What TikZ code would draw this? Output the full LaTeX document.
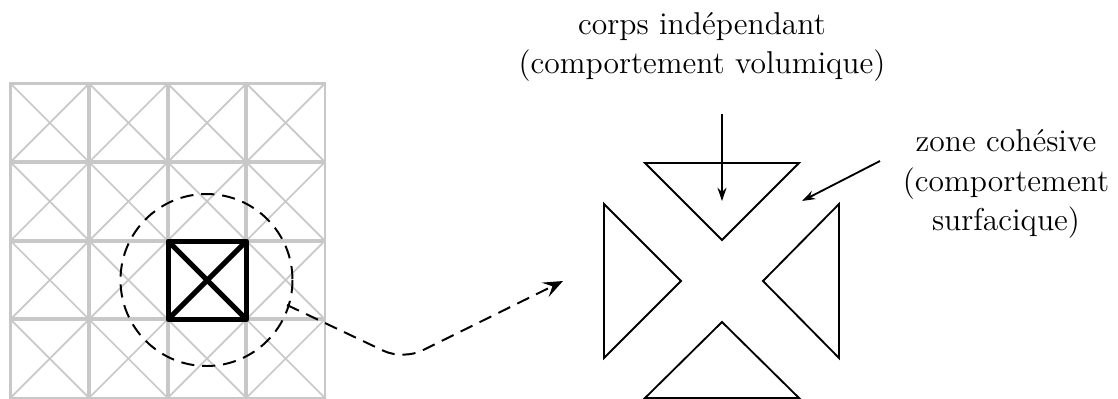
\documentclass[tikz,border=0pt]{standalone}
\usepackage{xcolor}
\usetikzlibrary{arrows.meta, positioning}
\definecolor{MESHgray}{RGB}{200,200,200}
\tikzset{
  meshline/.style={MESHgray, line width=1.4pt},
  meshedge/.style={MESHgray, line width=0.9pt},
  meshdiag/.style={MESHgray, line width=0.65pt},
  boldline/.style={black, line width=1.9pt, line join=round},
  tribody/.style={black, line width=0.7pt, line join=miter},
  callout/.style={black, line width=0.7pt, -{Stealth[length=5pt, width=3.4pt]}},
  zoomline/.style={black, line width=0.75pt, dash pattern=on 5pt off 3pt},
  caption/.style={align=center, inner sep=0pt, font=\large}
}
\begin{document}
\begin{tikzpicture}[x=0.38pt, y=-0.38pt]
        \useasboundingbox (0,0) rectangle (1118,398);
        % maillage
        \foreach \i in {0,...,3}{
          \foreach \j in {0,...,3}{
            \pgfmathsetmacro\xa{10.5+\i*78.6}
            \pgfmathsetmacro\ya{83.5+\j*78.6}
            \draw[meshdiag] (\xa,\ya) -- ++(78.6,78.6);
            \draw[meshdiag] (\xa+78.6,\ya) -- ++(-78.6,78.6);
          }
        }
        \foreach \i in {1,...,3}{
          \pgfmathsetmacro\xa{10.5+\i*78.6}
          \pgfmathsetmacro\ya{83.5+\i*78.6}
          \draw[meshline] (\xa,83.5) -- (\xa,398);
          \draw[meshline] (10.5,\ya) -- (325,\ya);
        }
        \draw[meshedge] (10.5,83.5) rectangle (325,398);
        % element central
        \draw[boldline] (168,241) rectangle (246.5,319.5);
        \draw[boldline] (168,241) -- (246.5,319.5);
        \draw[boldline] (246.5,241) -- (168,319.5);
        \draw[zoomline] (206.5,280) circle (86);
        % triangles
        \draw[tribody] (645,163) -- (799,163) -- (722,240) -- cycle;
        \draw[tribody] (604,204) -- (681,281) -- (604,358) -- cycle;
        \draw[tribody] (839,204) -- (763,281) -- (839,358) -- cycle;
        \draw[tribody] (722,322) -- (799,398) -- (645,398) -- cycle;
        % liaisons
        \coordinate (zoomA) at (287,305);
        \coordinate (zoomB) at (563,281);
        \coordinate (bodyA) at (722,114);
        \coordinate (bodyB) at (722,201);
        \coordinate (zoneA) at (880,161);
        \coordinate (zoneB) at (802,201);
        \draw[zoomline, rounded corners=8pt, -{Stealth[length=7.5pt, width=6pt, inset=3pt]}]
          (zoomA) -- (403,360) -- (zoomB);
        \draw[callout] (bodyA) -- (bodyB);
        \draw[callout] (zoneA) -- (zoneB);
        % textes
        \node[caption] (bodyText) at (702,47) {corps indépendant\\[1pt](comportement volumique)};
        \node[caption] (zoneText) at (1006,184) {zone cohésive\\[1pt](comportement\\[1pt]surfacique)};
\end{tikzpicture}
\end{document}
